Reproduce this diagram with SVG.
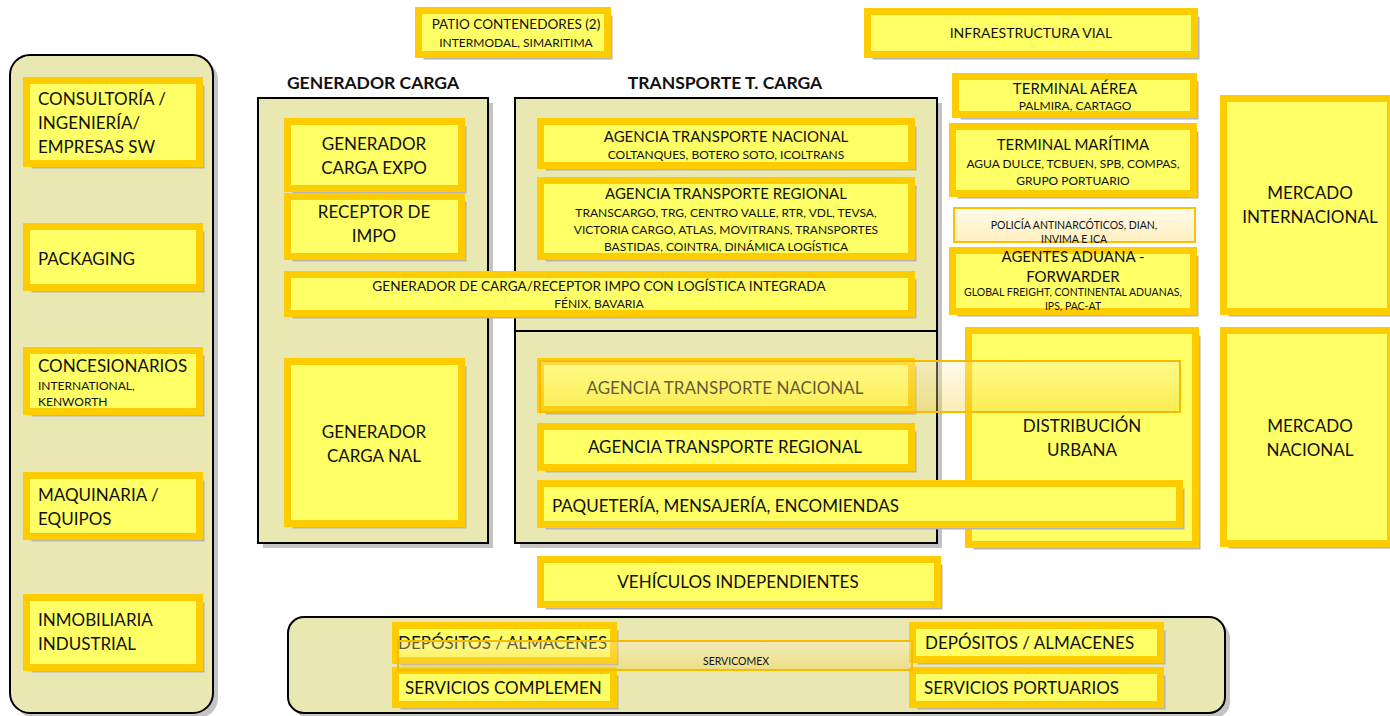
<svg xmlns="http://www.w3.org/2000/svg" width="1390" height="716" viewBox="0 0 1390 716">
<defs>
<linearGradient id="ovl" x1="0" y1="0" x2="0" y2="1">
<stop offset="0" stop-color="#FFF2C8"/>
<stop offset="1" stop-color="#F2CC34"/>
</linearGradient>
<linearGradient id="pol" x1="0" y1="0" x2="0" y2="1">
<stop offset="0" stop-color="#FFFBEA"/>
<stop offset="1" stop-color="#FFF0C0"/>
</linearGradient>
</defs>
<style>
.cont{fill:#EAE8B2;stroke:#000;stroke-width:2}
.csh{fill:#C4C4C4}
.sh{fill:#B4B4B4}
.box{fill:#FFFF66;stroke:#FFCC00;stroke-width:7}
.ovl{fill:url(#ovl);fill-opacity:0.35;stroke:#F5BC00;stroke-width:2}
.t{font-family:Lato,"Open Sans","Liberation Sans",sans-serif;fill:#111}
.c{text-anchor:middle}
.h{font-weight:bold;font-size:17.5px}
.l{font-size:17px}
.m{font-size:15px}
.s{font-size:12px}
.xs{font-size:10.5px}
</style>
<rect width="1390" height="716" fill="#FFFFFF"/>

<g id="containers">
<rect class="csh" x="15" y="60" width="203" height="658" rx="20"/>
<rect class="cont" x="10" y="55" width="203" height="658" rx="20"/>
<rect class="csh" x="263" y="103" width="230" height="445"/>
<rect class="cont" x="258" y="98" width="230" height="445"/>
<rect class="csh" x="520" y="103" width="422" height="445"/>
<rect class="cont" x="515" y="98" width="422" height="233"/>
<rect class="cont" x="515" y="331" width="422" height="212"/>
<rect class="csh" x="293" y="622" width="937" height="96" rx="16"/>
<rect class="cont" x="288" y="617" width="937" height="96" rx="16"/>
<text class="t h c" x="373" y="89">GENERADOR CARGA</text>
<text class="t h c" x="725" y="89">TRANSPORTE T. CARGA</text>
</g>

<g id="n-consultoria">
<rect class="sh" x="31.5" y="85.5" width="173" height="83"/>
<rect class="box" x="26.5" y="80.5" width="173" height="83"/>
<text class="t l" x="38" y="105">CONSULTORÍA /</text>
<text class="t l" x="38" y="129">INGENIERÍA/</text>
<text class="t l" x="38" y="153">EMPRESAS SW</text>
</g>
<g id="n-packaging">
<rect class="sh" x="31.5" y="231.5" width="173" height="61"/>
<rect class="box" x="26.5" y="226.5" width="173" height="61"/>
<text class="t l" x="38" y="265">PACKAGING</text>
</g>
<g id="n-concesionarios">
<rect class="sh" x="31.5" y="355.5" width="173" height="61"/>
<rect class="box" x="26.5" y="350.5" width="173" height="61"/>
<text class="t l" x="38" y="372">CONCESIONARIOS</text>
<text class="t s" x="38" y="390">INTERNATIONAL,</text>
<text class="t s" x="38" y="406">KENWORTH</text>
</g>
<g id="n-maquinaria">
<rect class="sh" x="31.5" y="480.5" width="173" height="61"/>
<rect class="box" x="26.5" y="475.5" width="173" height="61"/>
<text class="t l" x="38" y="501">MAQUINARIA /</text>
<text class="t l" x="38" y="525">EQUIPOS</text>
</g>
<g id="n-inmobiliaria">
<rect class="sh" x="31.5" y="602.5" width="173" height="70"/>
<rect class="box" x="26.5" y="597.5" width="173" height="70"/>
<text class="t l" x="38" y="626">INMOBILIARIA</text>
<text class="t l" x="38" y="650">INDUSTRIAL</text>
</g>

<g id="n-patio">
<rect class="sh" x="423.5" y="15.5" width="189" height="44"/>
<rect class="box" x="418.5" y="10.5" width="189" height="44"/>
<text class="t c" font-size="13.5" x="516" y="29">PATIO CONTENEDORES (2)</text>
<text class="t c s" x="516" y="47">INTERMODAL, SIMARITIMA</text>
</g>
<g id="n-infra">
<rect class="sh" x="872.5" y="16.5" width="327" height="43"/>
<rect class="box" x="867.5" y="11.5" width="327" height="43"/>
<text class="t c" font-size="14" x="1031" y="38">INFRAESTRUCTURA VIAL</text>
</g>

<g id="n-gen-expo">
<rect class="sh" x="292.5" y="126.5" width="174" height="67"/>
<rect class="box" x="287.5" y="121.5" width="174" height="67"/>
<text class="t l c" x="374" y="150">GENERADOR</text>
<text class="t l c" x="374" y="174">CARGA EXPO</text>
</g>
<g id="n-receptor">
<rect class="sh" x="292.5" y="201.5" width="174" height="60"/>
<rect class="box" x="287.5" y="196.5" width="174" height="60"/>
<text class="t l c" x="374" y="218">RECEPTOR DE</text>
<text class="t l c" x="374" y="242">IMPO</text>
</g>
<g id="n-gen-nal">
<rect class="sh" x="292.5" y="366.5" width="174" height="162"/>
<rect class="box" x="287.5" y="361.5" width="174" height="162"/>
<text class="t l c" x="374" y="438">GENERADOR</text>
<text class="t l c" x="374" y="462">CARGA NAL</text>
</g>

<g id="n-atn1">
<rect class="sh" x="545.5" y="126.5" width="371" height="44"/>
<rect class="box" x="540.5" y="121.5" width="371" height="44"/>
<text class="t m c" x="726" y="142">AGENCIA TRANSPORTE NACIONAL</text>
<text class="t s c" x="726" y="159">COLTANQUES, BOTERO SOTO, ICOLTRANS</text>
</g>
<g id="n-atr1">
<rect class="sh" x="545.5" y="185.5" width="371" height="76"/>
<rect class="box" x="540.5" y="180.5" width="371" height="76"/>
<text class="t m c" x="726" y="199">AGENCIA TRANSPORTE REGIONAL</text>
<text class="t s c" x="726" y="217">TRANSCARGO, TRG, CENTRO VALLE, RTR, VDL, TEVSA,</text>
<text class="t s c" x="726" y="234">VICTORIA CARGO, ATLAS, MOVITRANS, TRANSPORTES</text>
<text class="t s c" x="726" y="251">BASTIDAS, COINTRA, DINÁMICA LOGÍSTICA</text>
</g>
<g id="n-gen-integrada">
<rect class="sh" x="292.5" y="279.5" width="624" height="39"/>
<rect class="box" x="287.5" y="274.5" width="624" height="39"/>
<text class="t c" font-size="13.6" x="599" y="291">GENERADOR DE CARGA/RECEPTOR IMPO CON LOGÍSTICA INTEGRADA</text>
<text class="t s c" x="599" y="308">FÉNIX, BAVARIA</text>
</g>

<g id="n-aerea">
<rect class="sh" x="960.5" y="81.5" width="238" height="38"/>
<rect class="box" x="955.5" y="76.5" width="238" height="38"/>
<text class="t m c" x="1075" y="94">TERMINAL AÉREA</text>
<text class="t s c" x="1075" y="110">PALMIRA, CARTAGO</text>
</g>
<g id="n-maritima">
<rect class="sh" x="957.5" y="131.5" width="241" height="67"/>
<rect class="box" x="952.5" y="126.5" width="241" height="67"/>
<text class="t m c" x="1073" y="150">TERMINAL MARÍTIMA</text>
<text class="t s c" x="1073" y="168">AGUA DULCE, TCBUEN, SPB, COMPAS,</text>
<text class="t s c" x="1073" y="185">GRUPO PORTUARIO</text>
</g>
<g id="n-policia">
<rect x="954" y="208" width="241" height="34" fill="url(#pol)" stroke="#FFC000" stroke-width="2"/>
<text class="t xs c" x="1074" y="229">POLICÍA ANTINARCÓTICOS, DIAN,</text>
<text class="t xs c" x="1074" y="243">INVIMA E ICA</text>
</g>
<g id="n-agentes">
<rect class="sh" x="957.5" y="255.5" width="241" height="61"/>
<rect class="box" x="952.5" y="250.5" width="241" height="61"/>
<text class="t m c" x="1073" y="262">AGENTES ADUANA -</text>
<text class="t m c" x="1073" y="282">FORWARDER</text>
<text class="t xs c" x="1073" y="296">GLOBAL FREIGHT, CONTINENTAL ADUANAS,</text>
<text class="t xs c" x="1073" y="310">IPS, PAC-AT</text>
</g>

<g id="n-merc-int">
<rect class="sh" x="1228.5" y="103.5" width="167" height="213"/>
<rect class="box" x="1223.5" y="98.5" width="167" height="213"/>
<text class="t l c" x="1310" y="199">MERCADO</text>
<text class="t l c" x="1310" y="223">INTERNACIONAL</text>
</g>
<g id="n-merc-nal">
<rect class="sh" x="1228.5" y="335.5" width="167" height="213"/>
<rect class="box" x="1223.5" y="330.5" width="167" height="213"/>
<text class="t l c" x="1310" y="432">MERCADO</text>
<text class="t l c" x="1310" y="456">NACIONAL</text>
</g>

<g id="n-distribucion">
<rect class="sh" x="973.5" y="335.5" width="227" height="214"/>
<rect class="box" x="968.5" y="330.5" width="227" height="214"/>
<text class="t l c" x="1082" y="432">DISTRIBUCIÓN</text>
<text class="t l c" x="1082" y="456">URBANA</text>
</g>

<g id="n-atn2">
<rect class="sh" x="545.5" y="366.5" width="371" height="48"/>
<rect class="box" x="540.5" y="361.5" width="371" height="48"/>
<text class="t l c" x="725" y="394">AGENCIA TRANSPORTE NACIONAL</text>
</g>
<g id="n-atr2">
<rect class="sh" x="545.5" y="431.5" width="371" height="41"/>
<rect class="box" x="540.5" y="426.5" width="371" height="41"/>
<text class="t l c" x="725" y="453">AGENCIA TRANSPORTE REGIONAL</text>
</g>
<g id="n-overlay-nacional">
<rect class="ovl" x="540" y="361" width="640" height="51"/>
</g>
<g id="n-paqueteria">
<rect class="sh" x="545.5" y="488.5" width="639" height="41"/>
<rect class="box" x="540.5" y="483.5" width="639" height="41"/>
<text class="t l" x="552" y="512">PAQUETERÍA, MENSAJERÍA, ENCOMIENDAS</text>
</g>
<g id="n-vehiculos">
<rect class="sh" x="545.5" y="564.5" width="397" height="45"/>
<rect class="box" x="540.5" y="559.5" width="397" height="45"/>
<text class="t l c" x="738" y="588">VEHÍCULOS INDEPENDIENTES</text>
</g>

<g id="n-dep-l">
<rect class="sh" x="400.5" y="630.5" width="218" height="35"/>
<rect class="box" x="395.5" y="625.5" width="218" height="35"/>
<text class="t l" x="398" y="649">DEPÓSITOS / ALMACENES</text>
</g>
<g id="n-serv-c">
<rect class="sh" x="400.5" y="675.5" width="218" height="34"/>
<rect class="box" x="395.5" y="670.5" width="218" height="34"/>
<text class="t l" x="405" y="694">SERVICIOS COMPLEMEN</text>
</g>
<g id="n-dep-r">
<rect class="sh" x="917.5" y="630.5" width="248" height="34"/>
<rect class="box" x="912.5" y="625.5" width="248" height="34"/>
<text class="t l" x="925" y="649">DEPÓSITOS / ALMACENES</text>
</g>
<g id="n-serv-p">
<rect class="sh" x="917.5" y="675.5" width="248" height="34"/>
<rect class="box" x="912.5" y="670.5" width="248" height="34"/>
<text class="t l" x="924" y="694">SERVICIOS PORTUARIOS</text>
</g>
<g id="n-servicomex">
<rect class="ovl" x="398" y="641" width="514" height="29"/>
<text class="t xs c" x="736" y="665">SERVICOMEX</text>
</g>

<g id="connectors"></g>
</svg>
